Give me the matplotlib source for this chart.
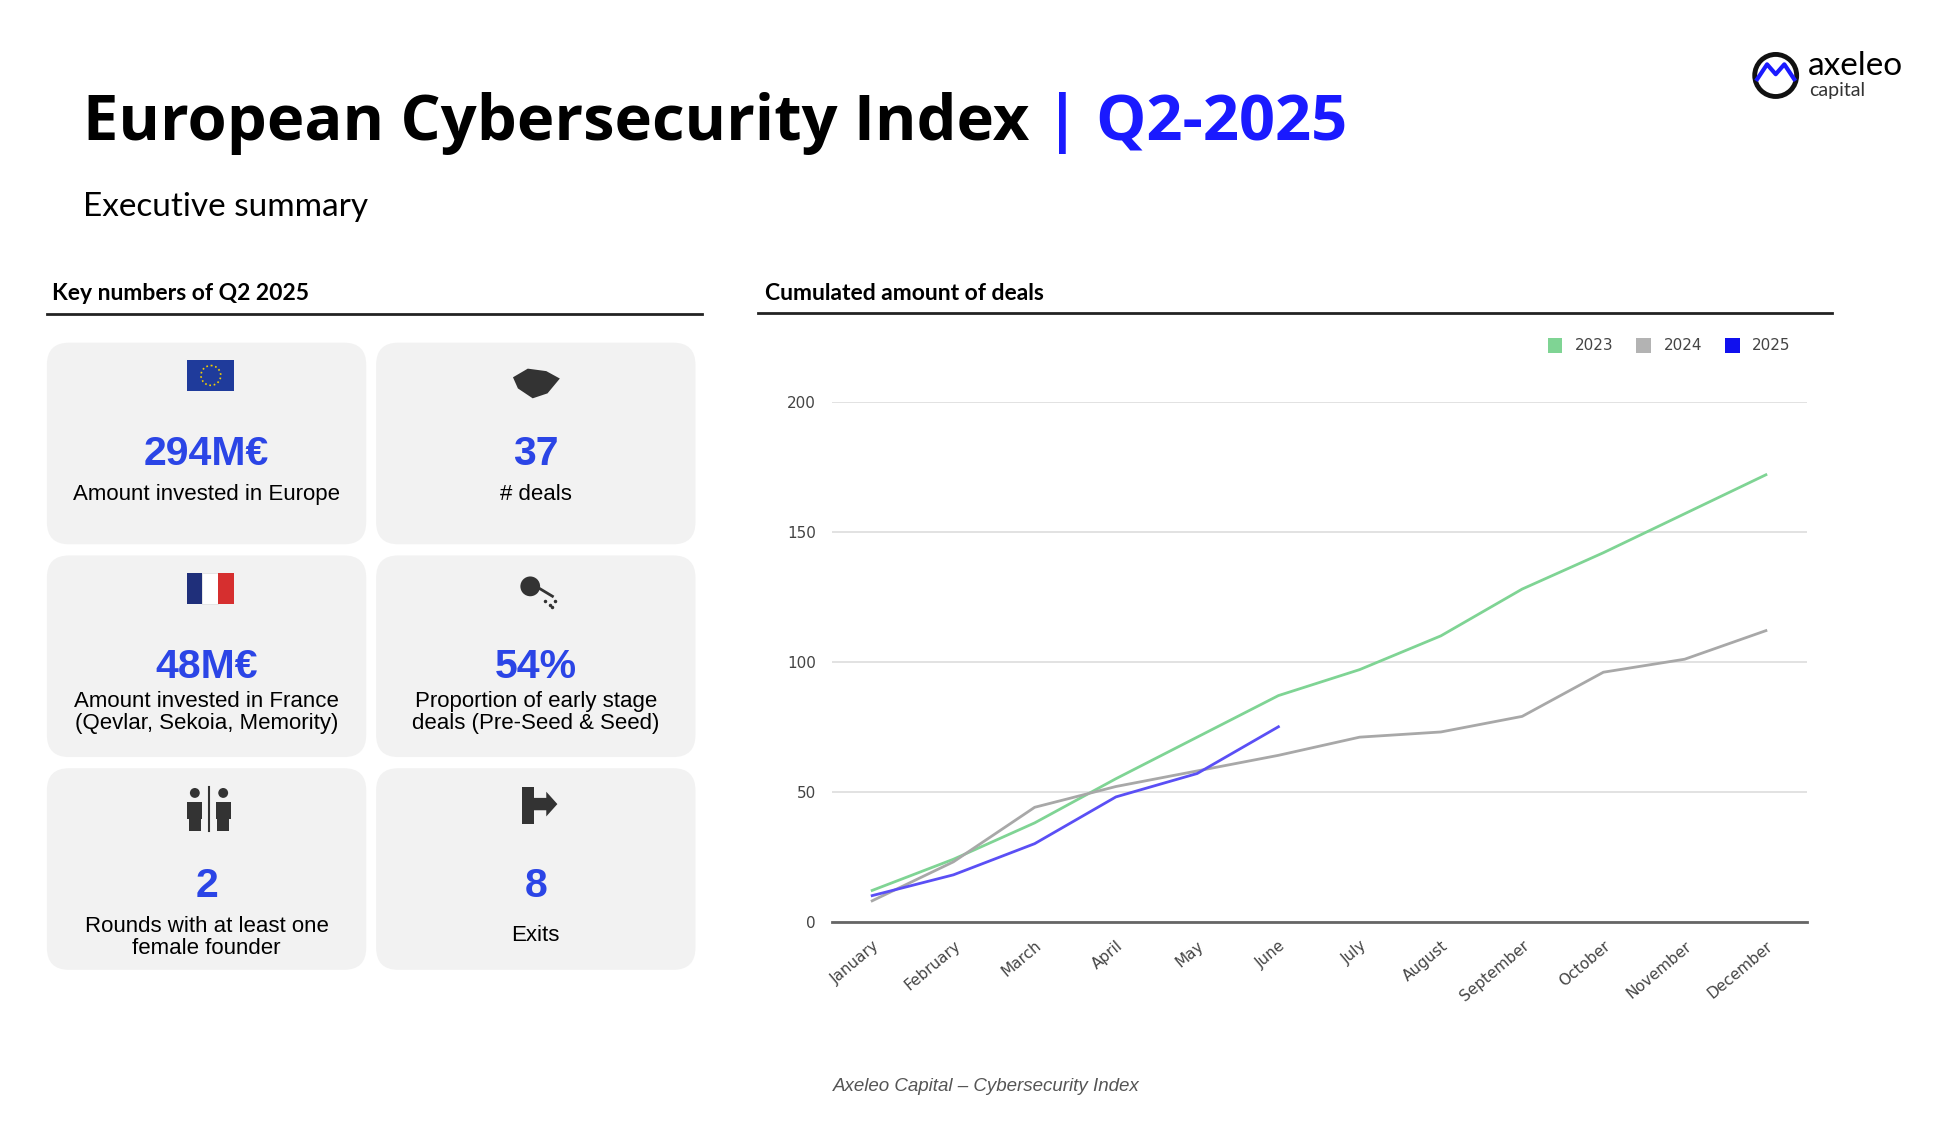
import matplotlib.pyplot as plt
from matplotlib.patches import FancyBboxPatch, Rectangle, Circle, Polygon

months = ["January", "February", "March", "April", "May", "June", "July",
          "August", "September", "October", "November", "December"]
deals_2023 = [12, 24, 38, 55, 71, 87, 97, 110, 128, 142, 157, 172]
deals_2024 = [8, 23, 44, 52, 58, 64, 71, 73, 79, 96, 101, 112]
deals_2025 = [10, 18, 30, 48, 57, 75]

card_values = ["294M€", "37", "48M€", "54%", "2", "8"]
card_labels = ["Amount invested in Europe", "# deals",
               "Amount invested in France\n(Qevlar, Sekoia, Memority)",
               "Proportion of early stage\ndeals (Pre-Seed & Seed)",
               "Rounds with at least one\nfemale founder", "Exits"]

W, H = 1570, 907
fig = plt.figure(figsize=(19.36, 11.22), dpi=100)
bg = fig.add_axes([0, 0, 1, 1])
bg.set_xlim(0, W)
bg.set_ylim(H, 0)
bg.axis("off")

BLUE = "#1a1aff"
NUM = "#2b45e6"

# header
t1 = bg.text(67, 100, "European Cybersecurity Index ", fontsize=45.5, fontweight="bold",
             family="Open Sans", va="center", color="black")
fig.canvas.draw()
bb = t1.get_window_extent()
x_end = bg.transData.inverted().transform((bb.x1, bb.y0))[0]
bg.text(x_end, 100, "| Q2-2025", fontsize=45.5, fontweight="bold", family="Open Sans",
        va="center", color=BLUE)
bg.text(67, 167, "Executive summary", fontsize=24, family="Lato", va="center")
bg.add_patch(Circle((1440, 61), 17, fill=False, lw=3.5, ec="#111111"))
bg.plot([1425, 1433, 1440, 1447, 1455], [64, 52, 60, 52, 64], color=BLUE, lw=3)
bg.text(1466, 53, "axeleo", fontsize=24, family="Lato", va="center")
bg.text(1467, 73, "capital", fontsize=14, family="Lato", va="center", color="#333333")

# section headers
bg.text(42, 237, "Key numbers of Q2 2025", fontsize=16.5, fontweight="bold",
        family="Lato", va="center")
bg.plot([38, 569], [254, 254], color="#222222", lw=2)
bg.text(620, 237, "Cumulated amount of deals", fontsize=16.5, fontweight="bold",
        family="Lato", va="center")
bg.plot([615, 1486], [253, 253], color="#222222", lw=2)

# cards
col_x = [38, 305]
row_y = [277, 449, 621]
cw, ch = 259, 163
for i in range(6):
    x0 = col_x[i % 2]
    y0 = row_y[i // 2]
    bg.add_patch(FancyBboxPatch((x0 + 18, y0 + 18), cw - 36, ch - 36,
                                boxstyle="round,pad=18", fc="#f2f2f2", ec="none"))
    cx = x0 + cw / 2
    vy = y0 + 90 if i < 4 else y0 + 95
    bg.text(cx, vy, card_values[i], fontsize=29.5, fontweight="bold",
            family="Liberation Sans", color=NUM, ha="center", va="center")
    if "\n" in card_labels[i]:
        ly = y0 + 127 if i < 4 else y0 + 137
    else:
        ly = y0 + 123 if i < 4 else y0 + 135
    bg.text(cx, ly, card_labels[i], fontsize=16, family="Liberation Sans",
            ha="center", va="center", linespacing=1.1)

# icons
bg.add_patch(Rectangle((152, 291), 38, 25, fc="#1f3b9b", ec="none"))
bg.add_patch(Circle((171, 303.5), 8, fill=False, ec="#f5d000", lw=1.2, ls=":"))
bg.add_patch(Rectangle((152, 463), 12, 25, fc="#1f2f7a", ec="none"))
bg.add_patch(Rectangle((164, 463), 13, 25, fc="white", ec="#dddddd", lw=0.5))
bg.add_patch(Rectangle((177, 463), 13, 25, fc="#d62f2f", ec="none"))
bg.add_patch(Polygon([[416, 305], [428, 298], [443, 300], [454, 306], [444, 318],
                      [432, 322], [420, 314]], fc="#333333", ec="none"))
bg.add_patch(Circle((430, 474), 8, fc="#333333"))
bg.plot([438, 448], [476, 482], color="#333333", lw=2)
bg.plot([442, 446, 450, 448], [486, 489, 486, 491], "o", ms=1.5, color="#333333")
for px in (158, 181):
    bg.add_patch(Circle((px, 641), 4, fc="#333333"))
    bg.add_patch(Rectangle((px - 6, 648), 12, 14, fc="#333333"))
    bg.add_patch(Rectangle((px - 5, 660), 10, 12, fc="#333333"))
bg.plot([169.5, 169.5], [636, 672], color="#333333", lw=1.5)
bg.add_patch(Rectangle((423, 636), 10, 30, fc="#333333"))
bg.add_patch(Polygon([[433, 645], [443, 645], [443, 640], [452, 650], [443, 660],
                      [443, 655], [433, 655]], fc="#333333"))

bg.text(800, 878, "Axeleo Capital – Cybersecurity Index", fontsize=13.5,
        style="italic", family="Liberation Sans", color="#555555", ha="center",
        va="center")

# line chart
ax = fig.add_axes([675 / W, 1 - 745 / H, (1465 - 675) / W, (745 - 325) / H])
x = list(range(len(months)))
ax.plot(x, deals_2023, color="#7fd494", lw=2)
ax.plot(x, deals_2024, color="#a8a8a8", lw=2)
ax.plot(x[:len(deals_2025)], deals_2025, color="#5a4ff5", lw=2)
ax.set_xlim(-0.49, 11.5)
ax.set_ylim(0, 200)
ax.set_yticks([0, 50, 100, 150, 200])
ax.set_xticks(x)
ax.set_xticklabels(months, rotation=40, ha="right", rotation_mode="anchor")
ax.tick_params(length=0, labelsize=11, colors="#444444", pad=12)
ax.grid(axis="y", color="#dddddd", lw=1.2)
ax.set_axisbelow(True)
for s in ["top", "right", "left"]:
    ax.spines[s].set_visible(False)
ax.spines["bottom"].set_color("#666666")
ax.spines["bottom"].set_linewidth(2)
ax.patch.set_alpha(0)

for lx, c, lab in [(1255, "#7fd494", "2023"), (1327, "#b3b3b3", "2024"),
                   (1399, "#1010ee", "2025")]:
    bg.add_patch(Rectangle((lx, 273), 12, 12, fc=c, ec="none"))
    bg.text(lx + 22, 279, lab, fontsize=11, color="#444444", va="center")

fig.savefig("out.png")
